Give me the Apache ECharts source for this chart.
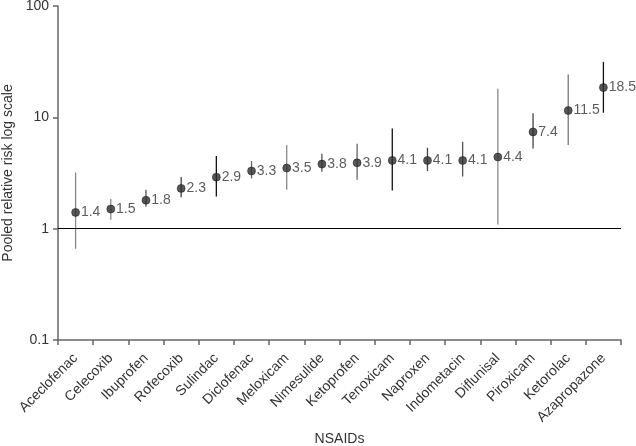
<!DOCTYPE html>
<html><head><meta charset="utf-8">
<script src="https://cdn.jsdelivr.net/npm/echarts@6/dist/echarts.min.js"></script>
<style>html,body{margin:0;padding:0;background:#fff}#c{width:636px;height:446px}</style>
</head><body><div id="c"></div>
<script>
const categories = ["Aceclofenac","Celecoxib","Ibuprofen","Rofecoxib","Sulindac","Diclofenac","Meloxicam","Nimesulide","Ketoprofen","Tenoxicam","Naproxen","Indometacin","Diflunisal","Piroxicam","Ketorolac","Azapropazone"];
const pooledRR = [1.4,1.5,1.8,2.3,2.9,3.3,3.5,3.8,3.9,4.1,4.1,4.1,4.4,7.4,11.5,18.5];
const lowerCI = [0.66,1.2,1.57,1.92,1.95,2.83,2.24,3.25,2.75,2.2,3.29,2.94,1.09,5.25,5.63,11.0];
const upperCI = [3.2,1.85,2.24,2.91,4.5,4.05,5.63,4.7,5.78,7.94,5.33,6.03,18.1,10.9,24.2,31.5];
const yTicks = [0.1,1,10,100];
const barColors = ["#8a8a8a","#8a8a8a","#555","#444","#111","#666","#8a8a8a","#555","#666","#111","#444","#555","#8a8a8a","#444","#777","#111"];

const chart = echarts.init(document.getElementById('c'));
const font = "'Liberation Sans', Arial, sans-serif";
chart.setOption({
  animation: false,
  textStyle: {fontFamily: font},
  grid: {left: 58, right: 15, top: 6, bottom: 106, outerBoundsMode: 'none', containLabel: false},
  xAxis: {
    type: 'category', data: categories, boundaryGap: true,
    name: 'NSAIDs', nameLocation: 'middle', nameGap: 85,
    nameTextStyle: {fontSize: 14, color: '#333', fontFamily: font},
    axisLine: {lineStyle: {color: '#666', width: 1.5}},
    axisTick: {show: true, length: 5, lineStyle: {color: '#666', width: 1.5}},
    axisLabel: {rotate: 45, fontSize: 14, color: '#333', margin: 16, interval: 0, fontFamily: font}
  },
  yAxis: {
    type: 'log', logBase: 10, min: 0.1, max: 100,
    name: 'Pooled relative risk log scale', nameLocation: 'middle', nameGap: 42,
    nameTextStyle: {fontSize: 14, color: '#333', fontFamily: font},
    axisLine: {show: true, lineStyle: {color: '#666', width: 1.5}},
    axisTick: {show: true, length: 5, lineStyle: {color: '#666', width: 1.5}},
    splitLine: {show: false},
    minorTick: {show: false},
    axisLabel: {fontSize: 14, color: '#333', margin: 9, fontFamily: font,
      formatter: v => { const t = yTicks.find(x => Math.abs(x - v) / x < 1e-6); return t !== undefined ? String(t) : ''; }}
  },
  series: [
    {
      type: 'custom',
      data: categories.map((c, i) => [i, lowerCI[i], upperCI[i]]),
      renderItem: (params, api) => {
        const i = api.value(0);
        const p1 = api.coord([i, api.value(1)]);
        const p2 = api.coord([i, api.value(2)]);
        return {type: 'line', shape: {x1: p1[0], y1: p1[1], x2: p2[0], y2: p2[1]},
          style: {stroke: barColors[params.dataIndex], lineWidth: 1.3}};
      },
      z: 2,
      markLine: {
        silent: true, symbol: ['none','none'],
        label: {show: false},
        lineStyle: {color: '#000', width: 1.2, type: 'solid'},
        data: [{yAxis: 1}]
      }
    },
    {
      type: 'scatter',
      data: pooledRR,
      symbol: 'circle', symbolSize: 8,
      itemStyle: {color: '#2e2e2e', borderColor: '#111', borderWidth: 0.6},
      label: {show: true, position: 'right', distance: 1, fontSize: 14, color: '#333', fontFamily: font,
        formatter: p => String(p.value)},
      z: 3
    }
  ]
});
</script></body></html>
